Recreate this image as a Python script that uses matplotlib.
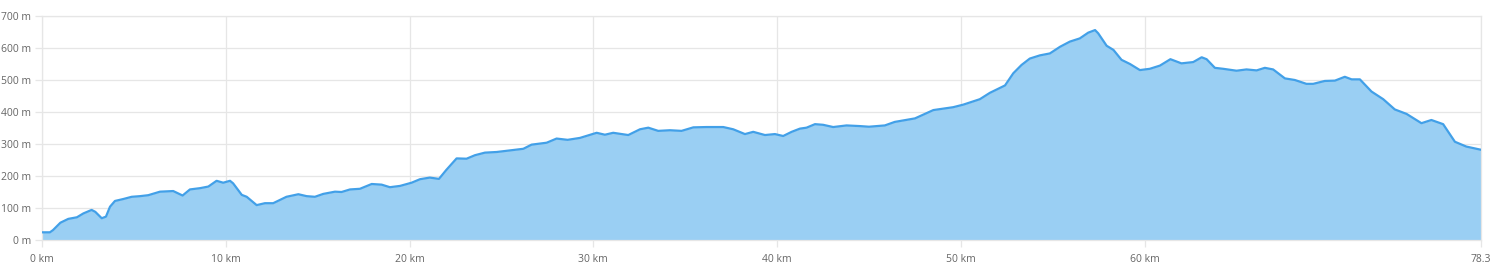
import matplotlib
matplotlib.use("Agg")
from matplotlib import pyplot as plt

# elevation profile
dist_km = [0.0, 0.43, 0.6, 1.0, 1.43, 1.9, 2.25, 2.7, 2.9, 3.25, 3.48, 3.7, 3.97, 4.42, 4.88,
           5.33, 5.78, 6.42, 7.14, 7.65, 8.05, 8.6, 9.05, 9.5, 9.86, 10.23, 10.4, 10.87, 11.14,
           11.68, 12.13, 12.58, 13.3, 13.95, 14.4, 14.85, 15.3, 15.94, 16.3, 16.76, 17.3,
           17.94, 18.48, 18.93, 19.48, 20.11, 20.57, 21.1, 21.6, 22.0, 22.56, 23.1, 23.56,
           24.1, 24.74, 25.46, 26.19, 26.64, 27.46, 28.0, 28.6, 29.27, 30.18, 30.63, 31.08,
           31.9, 32.54, 32.99, 33.53, 34.17, 34.8, 35.44, 36.16, 37.07, 37.61, 38.25, 38.7,
           39.34, 39.88, 40.33, 40.79, 41.24, 41.6, 42.06, 42.5, 43.05, 43.78, 44.5, 45.0,
           45.86, 46.4, 47.5, 48.5, 49.58, 50.13, 51.03, 51.58, 52.4, 52.85, 53.3, 53.75,
           54.3, 54.84, 55.4, 55.93, 56.47, 56.93, 57.3, 57.47, 57.93, 58.3, 58.74, 59.2,
           59.74, 60.28, 60.83, 61.4, 62.0, 62.64, 63.1, 63.37, 63.82, 64.27, 65.0, 65.54,
           66.09, 66.54, 66.99, 67.63, 68.17, 68.8, 69.17, 69.8, 70.35, 70.89, 71.26, 71.71,
           72.34, 72.98, 73.61, 74.25, 75.06, 75.6, 76.24, 76.88, 77.5, 78.3]
elev_m = [24, 24, 31, 54, 66, 71, 83, 94, 88, 68, 73, 104, 122, 128, 135,
          137, 140, 151, 153, 139, 158, 162, 167, 185, 179, 185, 177, 141, 135,
          109, 115, 115, 135, 143, 137, 135, 144, 151, 150, 158, 160,
          175, 173, 165, 169, 179, 190, 195, 191, 219, 255, 254, 265,
          273, 275, 280, 285, 298, 304, 317, 313, 319, 335, 329, 335,
          328, 346, 351, 341, 343, 341, 352, 353, 353, 346, 331, 338,
          328, 331, 325, 338, 348, 351, 362, 360, 353, 358, 356, 354,
          358, 369, 380, 406, 415, 423, 440, 460, 483, 521, 547, 567,
          577, 583, 604, 620, 630, 648, 656, 646, 607, 594, 563, 550,
          531, 535, 545, 565, 552, 556, 571, 565, 538, 535, 529, 533,
          530, 538, 533, 505, 500, 488, 488, 497, 498, 510, 502, 502,
          464, 440, 408, 394, 365, 375, 362, 307, 292, 282]

x_ticks = [0, 10, 20, 30, 40, 50, 60, 78.3]
x_labels = ["0 km", "10 km", "20 km", "30 km", "40 km", "50 km", "60 km", "78.3"]
y_ticks = [0, 100, 200, 300, 400, 500, 600, 700]
y_labels = [f"{v} m" for v in y_ticks]

plt.rcParams["font.family"] = ["Open Sans", "DejaVu Sans"]

fig = plt.figure(figsize=(15, 2.74), dpi=100)
ax = fig.add_axes([42 / 1500, 1 - 240 / 274, (1481 - 42) / 1500, (240 - 16) / 274])

ax.fill_between(dist_km, elev_m, 0, color="#9acff3", linewidth=0, zorder=2)
ax.plot(dist_km, elev_m, color="#42a0e8", linewidth=1.6, zorder=3,
        solid_joinstyle="round", solid_capstyle="round")

ax.set_xlim(0, 78.3)
ax.set_ylim(0, 700)
ax.set_xticks(x_ticks)
ax.set_xticklabels(x_labels)
ax.set_yticks(y_ticks)
ax.set_yticklabels(y_labels)

ax.grid(True, color="#e6e6e6", linewidth=0.9, zorder=1)
for s in ax.spines.values():
    s.set_color("#e6e6e6")
    s.set_linewidth(0.9)
ax.tick_params(colors="#e6e6e6", length=5, width=0.9, labelcolor="#666666", labelsize=7.5)
ax.tick_params(axis="y", pad=3)
ax.tick_params(axis="x", pad=5)

fig.savefig("out.png", dpi=100)
